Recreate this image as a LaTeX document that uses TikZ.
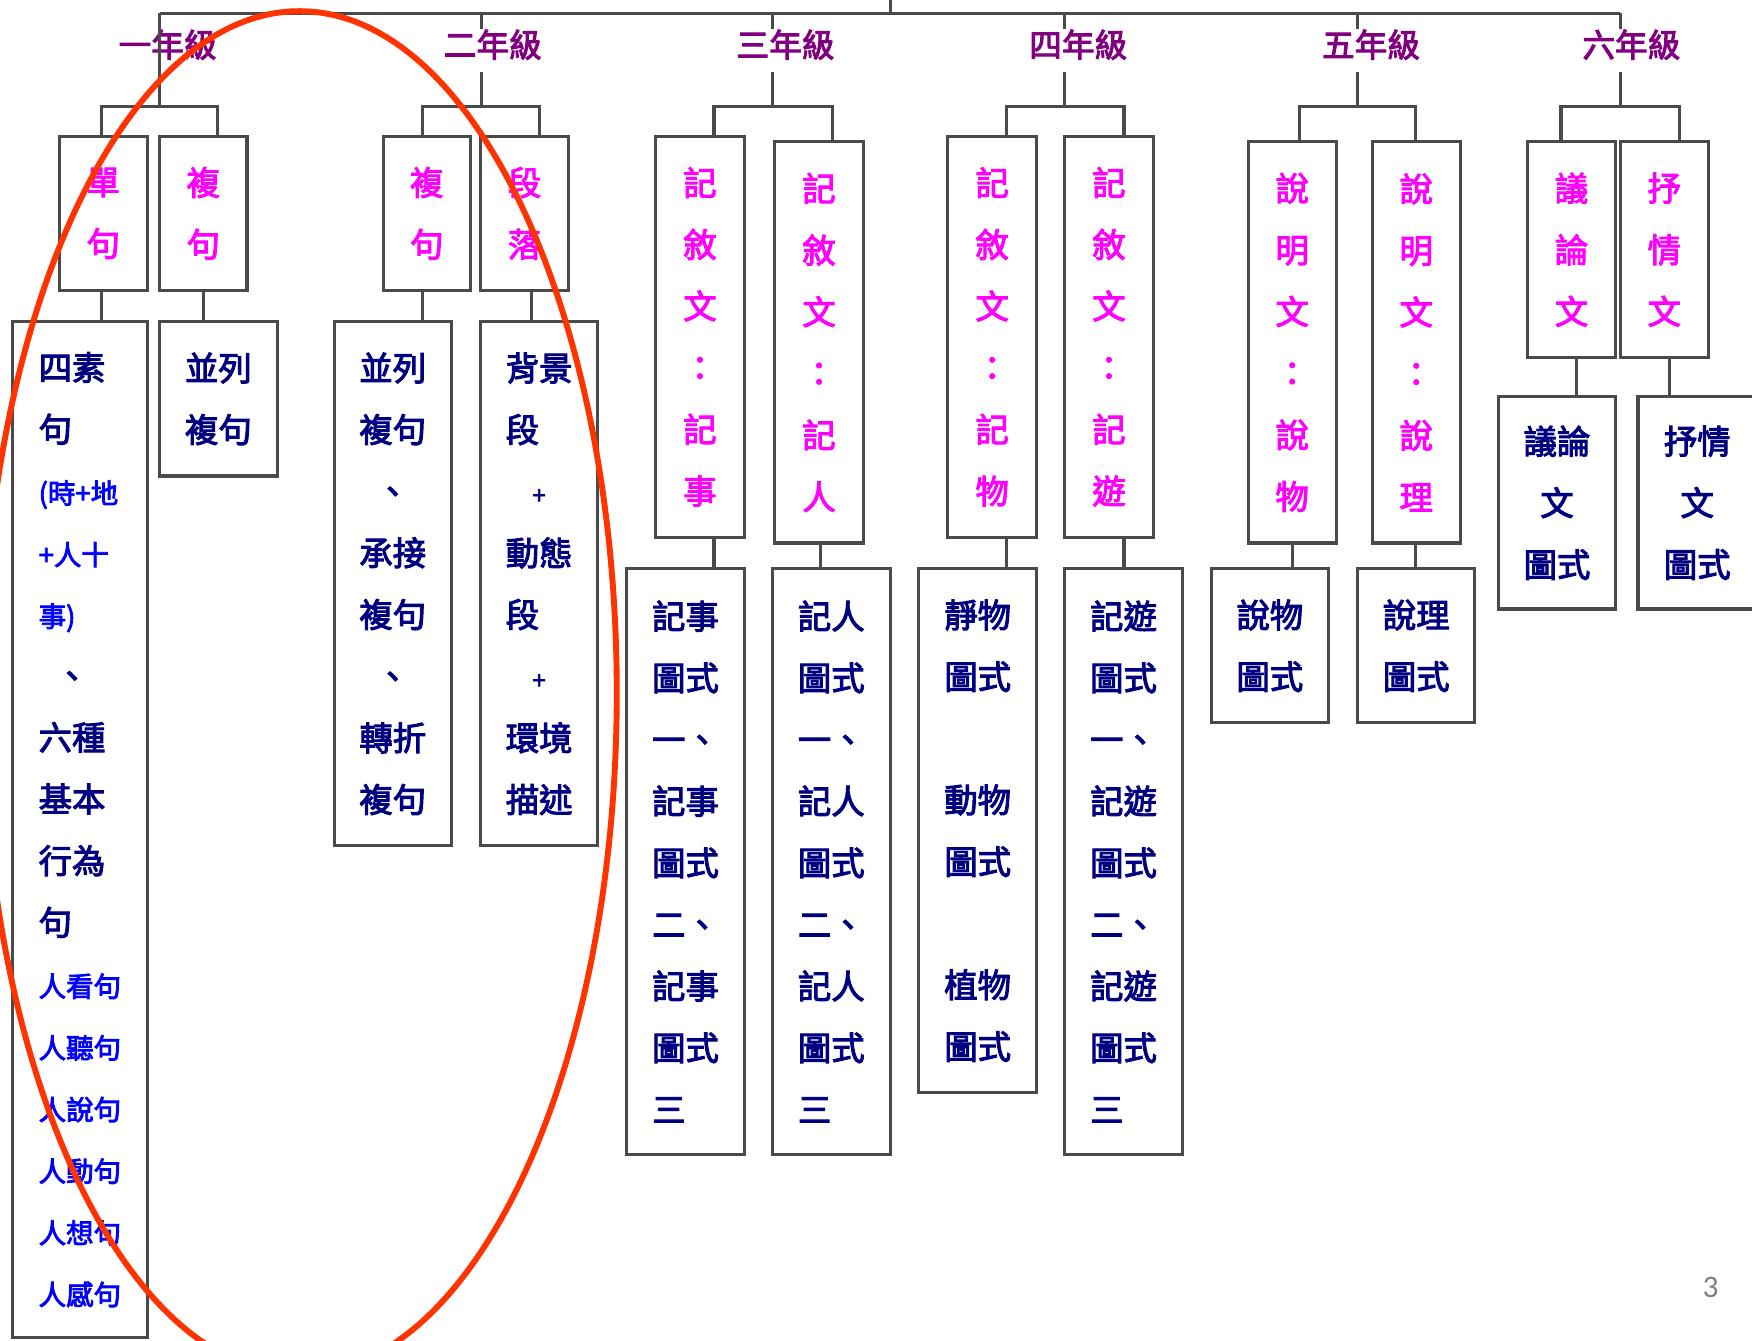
\documentclass[tikz,border=0pt]{standalone}
\usepackage{fontspec}
\usepackage{tikz}
\usepackage{xcolor}

\newfontfamily\hanzi[FakeBold=3]{Noto Sans CJK TC}
\newfontfamily\slidefont{Carlito}

\definecolor{boxline}{HTML}{4A4A4A}
\definecolor{gradepurple}{HTML}{800080}
\definecolor{titlemagenta}{HTML}{FF00FF}
\definecolor{bodynavy}{HTML}{000080}
\definecolor{bodyblue}{HTML}{0000FF}
\definecolor{circlered}{HTML}{FF3300}
\definecolor{pagegray}{HTML}{808080}

% small blue lines and centred marks inside the boxes
\newcommand{\bluline}[1]{{\color{bodyblue}\fontsize{7}{15.7}\selectfont #1}}
\newcommand{\dunmark}{\makebox[2em]{、}}
\newcommand{\plusmark}{\makebox[2em]{\fontsize{6}{15.7}\selectfont +}}

\begin{document}
\begin{tikzpicture}[x=0.1mm, y=-0.1mm,
% Style for the boxes and labels
box/.style={draw=boxline, line width=0.8pt, inner sep=0pt},
title box/.style={box, text=titlemagenta, align=center,
  font=\hanzi\fontsize{8.5}{15.7}\selectfont},
body box/.style={box, text=bodynavy, align=left,
  font=\hanzi\fontsize{8.5}{15.7}\selectfont},
grade/.style={text=gradepurple, inner sep=0pt,
  font=\hanzi\fontsize{8.3}{10}\selectfont},
link/.style={draw=boxline, line width=0.8pt}
]
\useasboundingbox (0,0) rectangle (1568,1200);

% Grade labels
\node[grade] (g1) at (150,40) {一年級};
\node[grade] (g2) at (441,40) {二年級};
\node[grade] (g3) at (703,40) {三年級};
\node[grade] (g4) at (965,40) {四年級};
\node[grade] (g5) at (1227,40) {五年級};
\node[grade] (g6) at (1460,40) {六年級};

% Junction points of the top bar and the sub bars
\coordinate (root) at (797,-10);
\foreach \i/\x in {1/143, 2/431, 3/691, 4/953, 5/1215, 6/1450} {
  \coordinate (t\i) at (\x,12);
  \coordinate (b\i) at (\x,95);
}
\foreach \i/\l/\r in {1/91/195, 2/378/483, 3/639/745, 4/901/1006, 5/1163/1267, 6/1397/1503} {
  \coordinate (l\i) at (\l,95);
  \coordinate (r\i) at (\r,95);
}

% GRADE 1
\node[title box, minimum width=7.9mm, minimum height=13.8mm] (A1) at (92.5,191) {單\\句};
\node[title box, minimum width=7.8mm, minimum height=13.8mm] (A2) at (182,191) {複\\句};
\node[body box, minimum width=12.1mm, minimum height=90.9mm] (A1c) at (71.5,742.5)
  {四素\\句\\\bluline{(時+地}\\\bluline{+人十}\\\bluline{事)}\\\dunmark\\六種\\基本\\行為\\句\\
   \bluline{人看句}\\\bluline{人聽句}\\\bluline{人說句}\\\bluline{人動句}\\\bluline{人想句}\\\bluline{人感句}};
\node[body box, minimum width=10.5mm, minimum height=13.8mm] (A2c) at (195.5,357) {並列\\複句};

% GRADE 2
\node[title box, minimum width=7.8mm, minimum height=13.8mm] (B1) at (382,191) {複\\句};
\node[title box, minimum width=7.9mm, minimum height=13.8mm] (B2) at (469.5,191) {段\\落};
\node[body box, minimum width=10.5mm, minimum height=46.9mm] (B1c) at (351.5,522.5)
  {並列\\複句\\\dunmark\\承接\\複句\\\dunmark\\轉折\\複句};
\node[body box, minimum width=10.5mm, minimum height=46.9mm] (B2c) at (482.5,522.5)
  {背景\\段\\\plusmark\\動態\\段\\\plusmark\\環境\\描述};

% GRADE 3
\node[title box, minimum width=7.9mm, minimum height=35.9mm] (C1) at (626.5,301.5) {記\\敘\\文\\：\\記\\事};
\node[title box, minimum width=8.0mm, minimum height=35.9mm] (C2) at (733,306.5) {記\\敘\\文\\：\\記\\人};
\node[body box, minimum width=10.5mm, minimum height=52.4mm] (C1c) at (613.5,771)
  {記事\\圖式\\一、\\記事\\圖式\\二、\\記事\\圖式\\三};
\node[body box, minimum width=10.6mm, minimum height=52.4mm] (C2c) at (744,771)
  {記人\\圖式\\一、\\記人\\圖式\\二、\\記人\\圖式\\三};

% GRADE 4
\node[title box, minimum width=8.0mm, minimum height=35.9mm] (D1) at (888,301.5) {記\\敘\\文\\：\\記\\物};
\node[title box, minimum width=7.9mm, minimum height=35.9mm] (D2) at (992.5,301.5) {記\\敘\\文\\：\\記\\遊};
\node[body box, minimum width=10.6mm, minimum height=46.9mm] (D1c) at (875,743.5)
  {靜物\\圖式\\~\\動物\\圖式\\~\\植物\\圖式};
\node[body box, minimum width=10.5mm, minimum height=52.4mm] (D2c) at (1005.5,771)
  {記遊\\圖式\\一、\\記遊\\圖式\\二、\\記遊\\圖式\\三};

% GRADE 5
\node[title box, minimum width=7.9mm, minimum height=35.9mm] (E1) at (1156.5,306.5) {說\\明\\文\\：\\說\\物};
\node[title box, minimum width=7.9mm, minimum height=35.9mm] (E2) at (1267.5,306.5) {說\\明\\文\\：\\說\\理};
\node[body box, minimum width=10.5mm, minimum height=13.8mm] (E1c) at (1136.5,578) {說物\\圖式};
\node[body box, minimum width=10.5mm, minimum height=13.8mm] (E2c) at (1267.5,578) {說理\\圖式};

% GRADE 6
\node[title box, minimum width=7.9mm, minimum height=19.3mm] (F1) at (1406.5,223.5) {議\\論\\文};
\node[title box, minimum width=7.9mm, minimum height=19.3mm] (F2) at (1489.5,223.5) {抒\\情\\文};
\node[body box, align=center, minimum width=10.5mm, minimum height=19mm] (F1c) at (1393.5,450) {議論\\文\\圖式};
\node[body box, align=center, minimum width=10.6mm, minimum height=19mm] (F2c) at (1519,450) {抒情\\文\\圖式};

% Top bar and grade stems
\draw[link] (root) -- (root |- t1);
\draw[link] (t1) -- (t6);
\draw[link] (t1) -- (b1);
\foreach \i in {2,...,6} {
  \draw[link] (t\i) -- (t\i |- g\i.north);
  \draw[link] ([yshift=-3pt]t\i |- g\i.south) -- (b\i);
}

% Sub bars down to the title boxes
\draw[link] (l1 |- A1.north) -- (l1) -- (r1) -- (r1 |- A2.north);
\draw[link] (l2 |- B1.north) -- (l2) -- (r2) -- (r2 |- B2.north);
\draw[link] (l3 |- C1.north) -- (l3) -- (r3) -- (r3 |- C2.north);
\draw[link] (l4 |- D1.north) -- (l4) -- (r4) -- (r4 |- D2.north);
\draw[link] (l5 |- E1.north) -- (l5) -- (r5) -- (r5 |- E2.north);
\draw[link] (l6 |- F1.north) -- (l6) -- (r6) -- (r6 |- F2.north);

% Title boxes down to the content boxes
\draw[link] (A1.south -| 91,0) -- (A1c.north -| 91,0);
\draw[link] (A2.south -| 182,0) -- (A2c.north -| 182,0);
\draw[link] (B1.south -| 378,0) -- (B1c.north -| 378,0);
\draw[link] (B2.south -| 476,0) -- (B2c.north -| 476,0);
\draw[link] (C1.south -| 639,0) -- (C1c.north -| 639,0);
\draw[link] (C2.south -| 734,0) -- (C2c.north -| 734,0);
\draw[link] (D1.south -| 901,0) -- (D1c.north -| 901,0);
\draw[link] (D2.south -| 1006,0) -- (D2c.north -| 1006,0);
\draw[link] (E1.south -| 1157,0) -- (E1c.north -| 1157,0);
\draw[link] (E2.south -| 1267,0) -- (E2c.north -| 1267,0);
\draw[link] (F1.south -| 1411,0) -- (F1c.north -| 1411,0);
\draw[link] (F2.south -| 1494,0) -- (F2c.north -| 1494,0);

% Page number
\node[text=pagegray, font=\slidefont\fontsize{8}{9.6}\selectfont] (pageno) at (1531,1152) {3};

% Red ring round grades 1 and 2
\draw[circlered, line width=1.5pt] (268,620) ellipse [x radius=28.4mm, y radius=61mm];

\end{tikzpicture}
\end{document}
